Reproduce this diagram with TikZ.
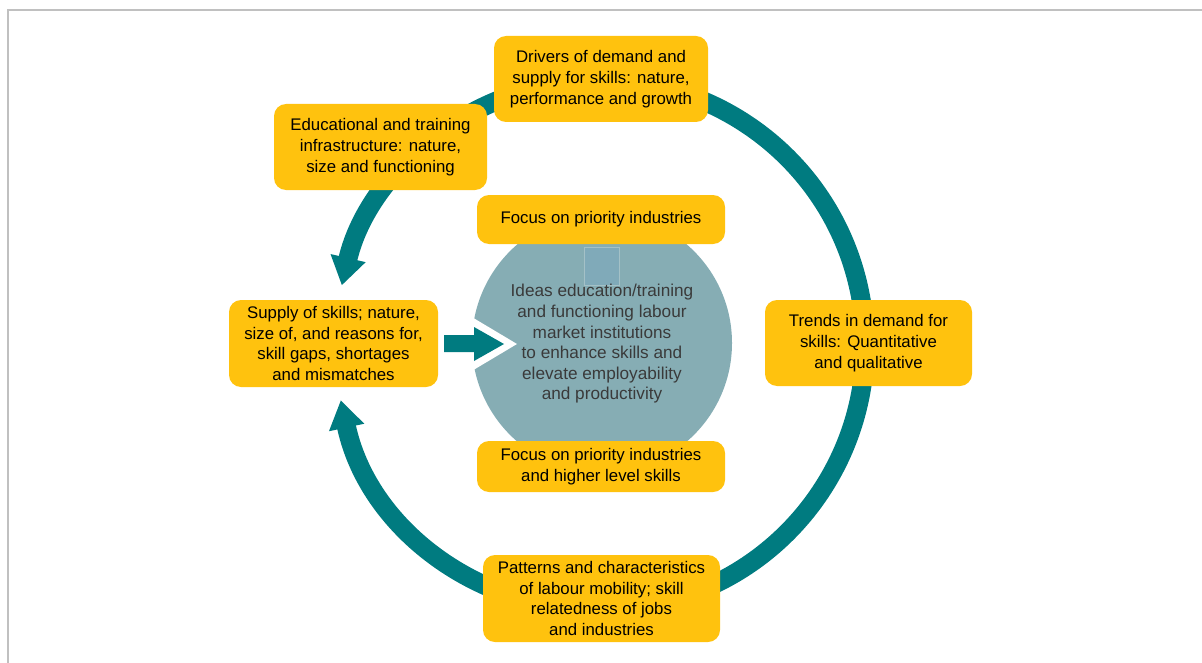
\documentclass[tikz,border=0pt]{standalone}
\usepackage{fontspec}
\setmainfont{Liberation Sans}
\usetikzlibrary{arrows.meta}

\definecolor{ringteal}{HTML}{007B80}
\definecolor{boxyellow}{HTML}{FFC20E}
\definecolor{hubgray}{HTML}{86ADB4}
\definecolor{hubpatch}{HTML}{80AAB9}
\definecolor{hubtext}{HTML}{3A3A3A}
\definecolor{framegray}{HTML}{C0C0C0}

\begin{document}
\begin{tikzpicture}[
    x=0.75pt, y=0.75pt,
    topic/.style = { rectangle, rounded corners=9pt, fill=boxyellow, align=center,
                     inner sep=0pt, font=\fontsize{12.6pt}{15.5pt}\selectfont },
    boxsize/.style 2 args = { minimum width=#1*0.75pt, minimum height=#2*0.75pt },
    cycle line/.style = { line width=14.25pt, color=ringteal },
    ]

    \useasboundingbox (0,0) rectangle (1202,662);

    % frame
    \draw[framegray, line width=1.8pt] (8,-5) -- (8,652) -- (1210,652);

    % outer cycle
    \draw[cycle line, {Triangle[length=21pt, width=25.5pt]}-{Triangle[length=21pt, width=25.5pt]}]
        (600,317) ++(192:265) arc[start angle=192, end angle=527, radius=265];

    % hub in the middle
    \node[circle, fill=hubgray, minimum size=195pt, inner sep=0pt] (hub) at (602,319) {};
    \fill[hubpatch, draw=hubgray!75!white, line width=0.3pt]
        (584,377) rectangle (619,415);
    \fill[white] (460,352) -- (517,318) -- (460,284) -- cycle;
    \fill[ringteal] (444,310) -- (474,310) -- (474,301) -- (504,318)
        -- (474,335) -- (474,327) -- (444,327) -- cycle;
    \node[align=center, text=hubtext, font=\fontsize{12.9pt}{15.45pt}\selectfont] (ideas) at (602,318)
        {Ideas education/training\\ and functioning labour\\ market institutions\\
         to enhance skills and\\ elevate employability\\ and productivity};

    % topics
    \node[topic, boxsize={214}{86}] (drivers) at (601,583)
        {Drivers of demand and\\ supply for skills: nature,\\ performance and growth};
    \node[topic, boxsize={213}{86}] (infra) at (380.5,515)
        {Educational and training\\ infrastructure: nature,\\ size and functioning};
    \node[topic, boxsize={248}{49}] (focus) at (601,442.5)
        {Focus on priority industries};
    \node[topic, boxsize={209}{87}] (supply) at (333.5,318.5)
        {Supply of skills; nature,\\ size of, and reasons for,\\ skill gaps, shortages\\ and mismatches};
    \node[topic, boxsize={207}{86}] (trends) at (868.5,319)
        {Trends in demand for\\ skills: Quantitative\\ and qualitative};
    \node[topic, boxsize={248}{51}] (higher) at (601,195.5)
        {Focus on priority industries\\ and higher level skills};
    \node[topic, boxsize={237}{87}] (mobility) at (601.5,63.5)
        {Patterns and characteristics\\ of labour mobility; skill\\ relatedness of jobs\\ and industries};

\end{tikzpicture}
\end{document}
